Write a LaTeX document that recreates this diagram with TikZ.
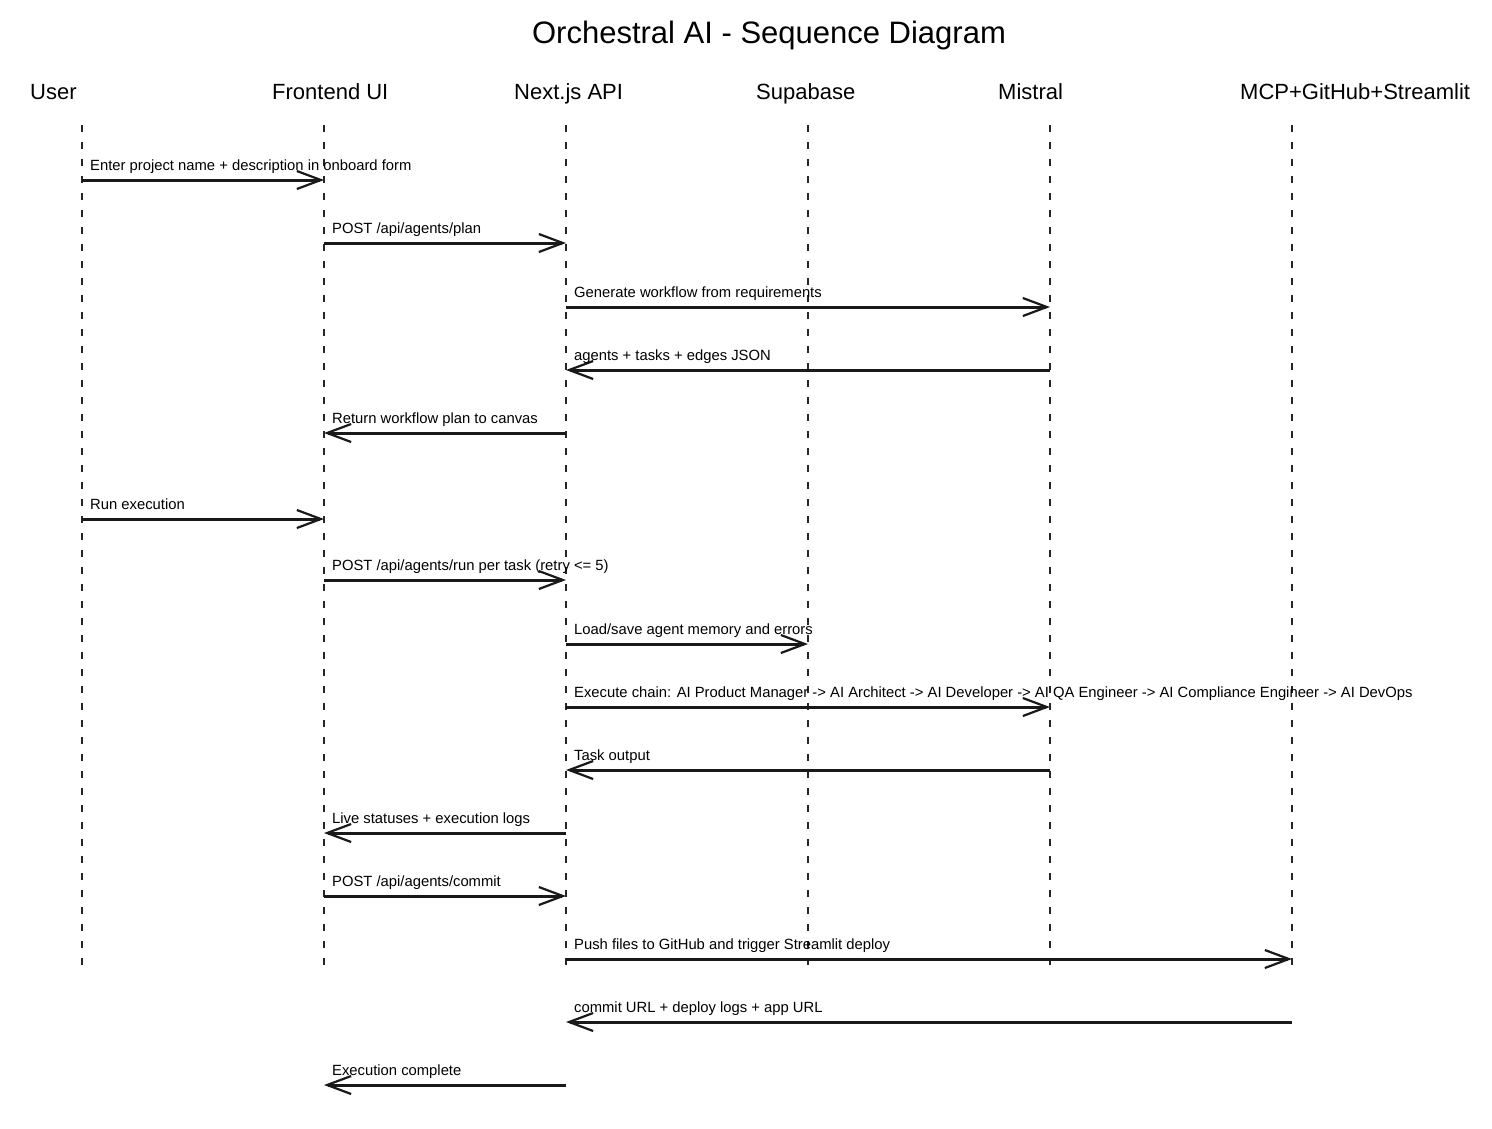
\documentclass[tikz,border=0pt]{standalone}
\usepackage{fontspec}
\setmainfont{Liberation Sans}
\usetikzlibrary{arrows.meta}

\tikzset{
  lifeline/.style={line width=1.3pt, dash pattern=on 7pt off 10pt, black!85},
  msg/.style={line width=3pt, black!90, -{Straight Barb[length=24pt,width=18pt,line width=2.2pt]}},
  lbl/.style={anchor=base west, inner sep=0pt, font=\fontsize{14.8}{16}\selectfont},
  actor/.style={anchor=base west, inner sep=0pt, font=\fontsize{22}{24}\selectfont}
}

\begin{document}
\begin{tikzpicture}[x=1pt, y=-1pt]
  \useasboundingbox (0,0) rectangle (1492,1128);

  \node[anchor=base, font=\fontsize{31}{34}\selectfont] (title) at (769,43) {Orchestral AI - Sequence Diagram};

  % lifelines
  \foreach \name/\x/\txt in {user/82/User, front/324/Frontend UI, api/566/Next.js API,
                            supa/808/Supabase, mistral/1050/Mistral, mcp/1292/MCP+GitHub+Streamlit} {
    \node[actor] (\name-h) at (\x-52,99) {\txt};
    \coordinate (\name) at (\x,125);
    \coordinate (\name-b) at (\x,968);
    \draw[lifeline] (\name) -- (\name-b);
  }

  % message rows
  \foreach \i/\y in {1/180, 2/243, 3/307, 4/370, 5/433, 6/519, 7/580, 8/644,
                     9/707, 10/770, 11/833, 12/896, 13/959, 14/1022, 15/1085}
    \coordinate (m\i) at (0,\y);

  \draw[msg] (user |- m1) -- (front |- m1);
  \node[lbl] (t1) at ([xshift=8pt,yshift=10pt]user |- m1) {Enter project name + description in onboard form};

  \draw[msg] (front |- m2) -- (api |- m2);
  \node[lbl] (t2) at ([xshift=8pt,yshift=10pt]front |- m2) {POST /api/agents/plan};

  \draw[msg] (api |- m3) -- (mistral |- m3);
  \node[lbl] (t3) at ([xshift=8pt,yshift=10pt]api |- m3) {Generate workflow from requirements};

  \draw[msg] (mistral |- m4) -- (api |- m4);
  \node[lbl] (t4) at ([xshift=8pt,yshift=10pt]api |- m4) {agents + tasks + edges JSON};

  \draw[msg] (api |- m5) -- (front |- m5);
  \node[lbl] (t5) at ([xshift=8pt,yshift=10pt]front |- m5) {Return workflow plan to canvas};

  \draw[msg] (user |- m6) -- (front |- m6);
  \node[lbl] (t6) at ([xshift=8pt,yshift=10pt]user |- m6) {Run execution};

  \draw[msg] (front |- m7) -- (api |- m7);
  \node[lbl] (t7) at ([xshift=8pt,yshift=10pt]front |- m7) {POST /api/agents/run per task (retry <= 5)};

  \draw[msg] (api |- m8) -- (supa |- m8);
  \node[lbl] (t8) at ([xshift=8pt,yshift=10pt]api |- m8) {Load/save agent memory and errors};

  \draw[msg] (api |- m9) -- (mistral |- m9);
  \node[lbl] (t9) at ([xshift=8pt,yshift=10pt]api |- m9) {Execute chain: AI Product Manager -> AI Architect -> AI Developer -> AI QA Engineer -> AI Compliance Engineer -> AI DevOps};

  \draw[msg] (mistral |- m10) -- (api |- m10);
  \node[lbl] (t10) at ([xshift=8pt,yshift=10pt]api |- m10) {Task output};

  \draw[msg] (api |- m11) -- (front |- m11);
  \node[lbl] (t11) at ([xshift=8pt,yshift=10pt]front |- m11) {Live statuses + execution logs};

  \draw[msg] (front |- m12) -- (api |- m12);
  \node[lbl] (t12) at ([xshift=8pt,yshift=10pt]front |- m12) {POST /api/agents/commit};

  \draw[msg] (api |- m13) -- (mcp |- m13);
  \node[lbl] (t13) at ([xshift=8pt,yshift=10pt]api |- m13) {Push files to GitHub and trigger Streamlit deploy};

  \draw[msg] (mcp |- m14) -- (api |- m14);
  \node[lbl] (t14) at ([xshift=8pt,yshift=10pt]api |- m14) {commit URL + deploy logs + app URL};

  \draw[msg] (api |- m15) -- (front |- m15);
  \node[lbl] (t15) at ([xshift=8pt,yshift=10pt]front |- m15) {Execution complete};
\end{tikzpicture}
\end{document}
